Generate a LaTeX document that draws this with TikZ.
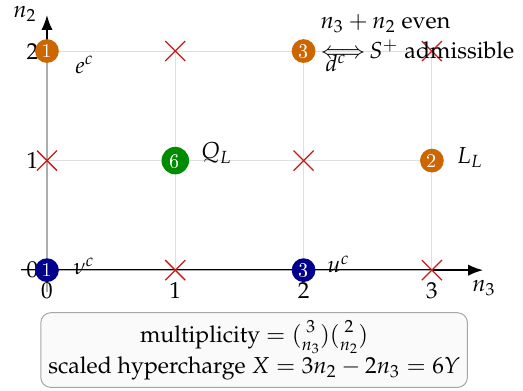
\documentclass[tikz,border=0pt]{standalone}
\usepackage[T1]{fontenc}
\usepackage{mathpazo}
\usepackage{amsmath}
\usetikzlibrary{arrows.meta,calc}
\definecolor{corange}{RGB}{204,102,0}
\definecolor{cblue}{RGB}{0,0,140}
\definecolor{cgreen}{RGB}{0,140,0}
\definecolor{cred}{RGB}{200,25,25}
\tikzset{
  gridline/.style={draw=gray!25, line width=0.4pt},
  axisline/.style={draw=black, line width=0.8pt, -{Latex[length=6pt,width=4.5pt]}},
  axisover/.style={draw=gray!65, line width=0.5pt},
  dot/.style={circle, inner sep=0pt, minimum size=9.5pt, text=white, font=\sffamily\fontsize{8.5}{9}\selectfont},
  bigdot/.style={dot, minimum size=11pt},
  xmark/.style={draw=cred, line width=0.5pt},
  infobox/.style={draw=gray!70, fill=gray!4, rounded corners=4pt, align=center, inner sep=3pt}
}
\begin{document}
\begin{tikzpicture}[x=51.3pt, y=43.8pt, font=\fontsize{9.25}{11.1}\selectfont]
\useasboundingbox (-0.366,-1.096) rectangle (3.710,2.466);
% grid
\foreach \i in {1,2,3} \draw[gridline] (\i,0) -- (\i,2);
\foreach \j in {1,2} \draw[gridline] (0,\j) -- (3,\j);
% axes
\coordinate (o1) at (-0.2,0);
\coordinate (o2) at (0,-0.2);
\coordinate (xend) at (3.40,0);
\coordinate (yend) at (0,2.33);
\coordinate (x3) at (3,0);
\coordinate (y2) at (0,2);
\draw[axisline] (o1) -- (xend);
\draw[axisline] (o2) -- (yend);
\draw[axisover] (o1) -- (x3);
\draw[axisover] (o2) -- (y2);
\node (n3lab) at (3.406,-0.164) {$n_3$};
\node (n2lab) at (-0.171,2.338) {$n_2$};
% tick labels
\foreach \i in {0,1,2,3} \node[below=1.5pt] (tx\i) at (\i,0) {\i};
\foreach \j in {0,1,2} \node[left=0pt] (ty\j) at (0,\j) {\j};
% crosses
\foreach \p/\q in {1/2,3/2,0/1,2/1,1/0,3/0}{
  \draw[xmark] ($(\p,\q)+(-4pt,-4pt)$) -- ($(\p,\q)+(4pt,4pt)$);
  \draw[xmark] ($(\p,\q)+(-4pt,4pt)$) -- ($(\p,\q)+(4pt,-4pt)$);
}
% statement
\node[anchor=west, align=left, inner sep=0pt] (stmt) at (2.128,2.128)
  {$n_3+n_2$ even\\[1pt] ${\Longleftrightarrow}\,S^+$ admissible};
% points
\node[dot, fill=cblue] (p00) at (0,0) {1};
\node[dot, fill=cblue] (p20) at (2,0) {3};
\node[dot, fill=corange] (p02) at (0,2) {1};
\node[dot, fill=corange] (p22) at (2,2) {3};
\node[dot, fill=corange] (p31) at (3,1) {2};
\node[bigdot, fill=cgreen] (p11) at (1,1) {6};
% labels
\node (lnu) at ($(p00)+(14.8pt,1.6pt)$) {$\nu^c$};
\node (lu) at ($(p20)+(14pt,2.4pt)$) {$u^c$};
\node (le) at ($(p02)+(15pt,-5.5pt)$) {$e^c$};
\node (ld) at ($(p22)+(13pt,-5pt)$) {$d^c$};
\node (lq) at ($(p11)+(16.5pt,3pt)$) {$Q_L$};
\node (ll) at ($(p31)+(15.2pt,1.2pt)$) {$L_L$};
% info box
\node[infobox, anchor=north east] (box) at (3.281,-0.384)
  {multiplicity $=\binom{3}{n_3}\binom{2}{n_2}$\\
   scaled hypercharge $X=3n_2-2n_3=6Y$};
\end{tikzpicture}
\end{document}
